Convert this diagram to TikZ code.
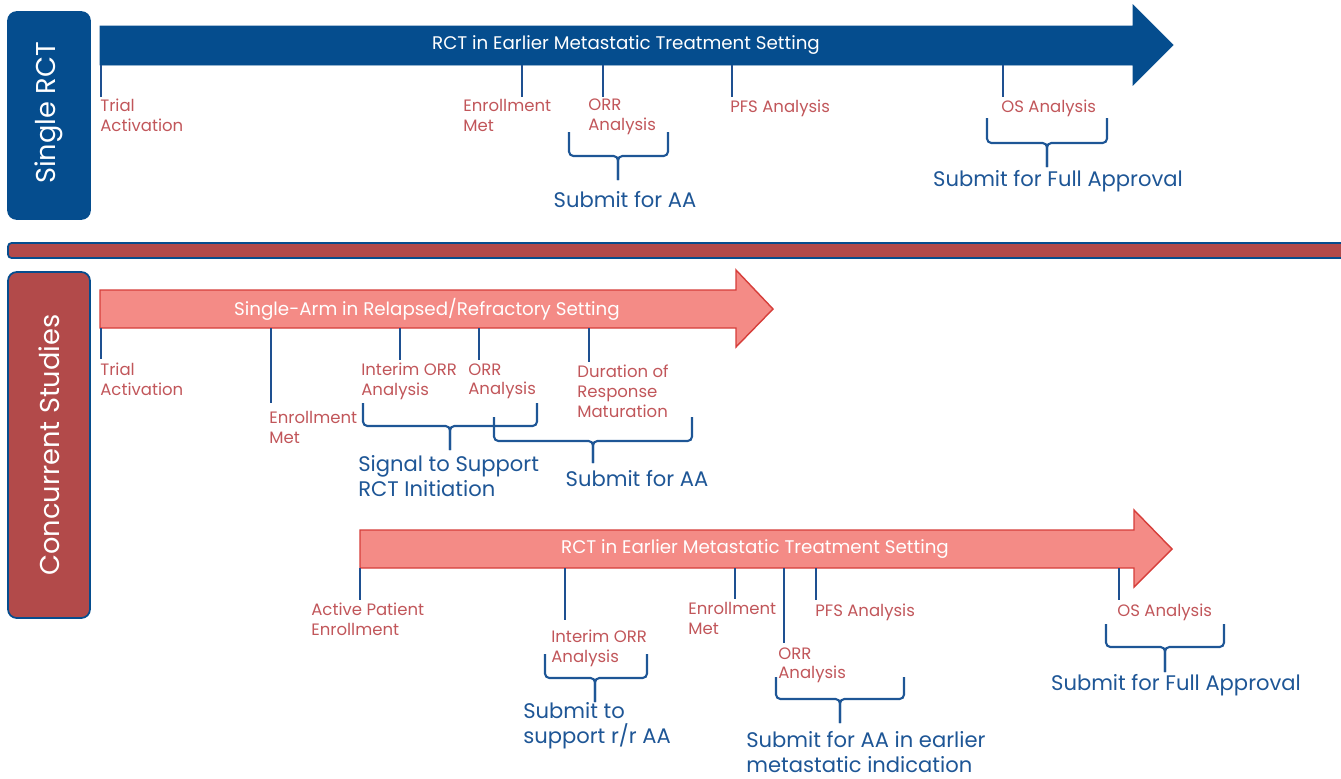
\documentclass[tikz,border=0pt]{standalone}
\usepackage{fontspec}
\setmainfont{Poppins}
\usetikzlibrary{positioning,calc}
\definecolor{dkblue}{RGB}{5,77,142}
\definecolor{brick}{RGB}{178,74,74}
\definecolor{salmon}{RGB}{244,139,134}
\definecolor{arrowred}{RGB}{214,62,58}
\definecolor{lblred}{RGB}{193,86,90}
\definecolor{txtblue}{RGB}{30,86,150}
\definecolor{tickblue}{RGB}{30,80,145}

\begin{document}
\begin{tikzpicture}[x=0.02cm, y=-0.02cm,
  sidebox/.style={draw=dkblue, line width=1pt, rounded corners=5pt},
  sidetext/.style={text=white, rotate=90, inner sep=0pt, font=\fontsize{15.5}{18}\selectfont},
  bartext/.style={text=white, inner sep=0pt, font=\fontsize{10.4}{12}\selectfont},
  tick/.style={draw=tickblue, line width=1.2pt},
  brace/.style={draw=txtblue, line width=1.2pt, rounded corners=2.5pt},
  mlabel/.style={anchor=north west, inner sep=0pt, align=left, text=lblred, font=\fontsize{9.4}{11.3}\selectfont},
  note/.style={inner sep=0pt, align=left, text=txtblue, font=\fontsize{12}{14.2}\selectfont}]
  \useasboundingbox (0,0) rectangle (1341,778);

  % Side panels and divider
  \draw [sidebox, fill=dkblue] (8,12) rectangle (90,219);
  \node [sidetext] (single) at (49,113) {Single RCT};
  \draw [sidebox, fill=brick, rounded corners=2pt] (8,243) rectangle (1350,258);
  \draw [sidebox, fill=brick] (8,272) rectangle (90,618);
  \node [sidetext] (concurrent) at (49,445) {Concurrent Studies};

  % Single RCT timeline
  \draw [draw=dkblue, fill=dkblue] (100,26) -- (1133,26) -- (1133,5) -- (1173,45) -- (1133,85) -- (1133,65) -- (100,65) -- cycle;
  \node [bartext] (rct) at (626,45) {RCT in Earlier Metastatic Treatment Setting};

  \node [mlabel] (trial) at (100,99) {Trial\\Activation};
  \node [mlabel] (enroll) at (463,99) {Enrollment\\Met};
  \node [mlabel] (orr) at (588,99) {ORR\\Analysis};
  \node [mlabel] (pfs) at (730,100) {PFS Analysis};
  \node [mlabel] (os) at (1001,100) {OS Analysis};

  \foreach \n/\x/\y in {trial/101/97, enroll/522/97, orr/603/97, pfs/732/97, os/1003/97} {
    \coordinate (\n top) at (\x,65);
    \coordinate (\n end) at (\x,\y);
    \draw [tick] (\n top) -- (\n end);
  }

  \node [note] (aa) at (625,200) {Submit for AA};
  \node [note] (full) at (1058,181) {Submit for Full Approval};
  \draw [brace] (569,132) |- (618,156) -- (618,180);
  \draw [brace] (668,132) |- (618,156) -- (618,180);
  \draw [brace] (987,118) |- (1047,143) -- (1047,167);
  \draw [brace] (1107,118) |- (1047,143) -- (1047,167);

  % Single-arm timeline
  \draw [draw=arrowred, fill=salmon, line width=0.8pt] (100,290) -- (736,290) -- (736,270) -- (773,309) -- (736,347) -- (736,328) -- (100,328) -- cycle;
  \node [bartext] (sa) at (427,309) {Single-Arm in Relapsed/Refractory Setting};

  \node [mlabel] (satrial) at (100,363) {Trial\\Activation};
  \node [mlabel] (saenroll) at (269,411) {Enrollment\\Met};
  \node [mlabel] (sainterim) at (361,363) {Interim ORR\\Analysis};
  \node [mlabel] (saorr) at (468,363) {ORR\\Analysis};
  \node [mlabel] (sadur) at (577,365) {Duration of\\Response\\Maturation};

  \foreach \n/\x/\y in {satrial/101/359, saenroll/271/403, sainterim/400/360, saorr/479/360, sadur/589/362} {
    \coordinate (\n top) at (\x,328);
    \coordinate (\n end) at (\x,\y);
    \draw [tick] (\n top) -- (\n end);
  }

  \node [note, anchor=north west] (signal) at (358,455) {Signal to Support\\RCT Initiation};
  \node [note] (saaa) at (637,479) {Submit for AA};
  \draw [brace] (363,403) |- (450,426) -- (450,450);
  \draw [brace] (537,403) |- (450,426) -- (450,450);
  \draw [brace] (494,417) |- (593,441) -- (593,463);
  \draw [brace] (692,417) |- (593,441) -- (593,463);

  % Concurrent RCT timeline
  \draw [draw=arrowred, fill=salmon, line width=0.8pt] (360,530) -- (1134,530) -- (1134,510) -- (1172,549) -- (1134,587) -- (1134,568) -- (360,568) -- cycle;
  \node [bartext] (crct) at (755,549) {RCT in Earlier Metastatic Treatment Setting};

  \node [mlabel] (active) at (311,603) {Active Patient\\Enrollment};
  \node [mlabel] (cinterim) at (551,630) {Interim ORR\\Analysis};
  \node [mlabel] (cenroll) at (688,602) {Enrollment\\Met};
  \node [mlabel] (corr) at (778,647) {ORR\\Analysis};
  \node [mlabel] (cpfs) at (815,604) {PFS Analysis};
  \node [mlabel] (cos) at (1117,604) {OS Analysis};

  \foreach \n/\x/\y in {active/360/600, cinterim/565/620, cenroll/735/599, corr/784/643, cpfs/816/600, cos/1119/600} {
    \coordinate (\n top) at (\x,568);
    \coordinate (\n end) at (\x,\y);
    \draw [tick] (\n top) -- (\n end);
  }

  \node [note, anchor=north west] (rraa) at (523,702) {Submit to\\support r/r AA};
  \node [note, anchor=north west] (earlyaa) at (746,731) {Submit for AA in earlier\\metastatic indication};
  \node [note] (cfull) at (1176,685) {Submit for Full Approval};
  \draw [brace] (545,654) |- (595,678) -- (595,702);
  \draw [brace] (647,654) |- (595,678) -- (595,702);
  \draw [brace] (776,677) |- (840,699) -- (840,723);
  \draw [brace] (904,677) |- (840,699) -- (840,723);
  \draw [brace] (1106,624) |- (1165,647) -- (1165,672);
  \draw [brace] (1224,624) |- (1165,647) -- (1165,672);
\end{tikzpicture}
\end{document}
